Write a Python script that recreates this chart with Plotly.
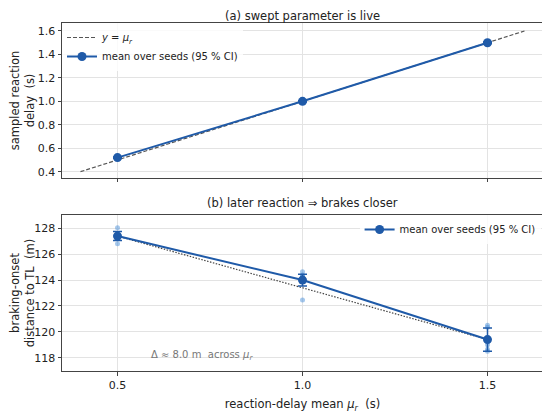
import plotly.graph_objects as go

# ---------- data ----------
mu_r = [0.5, 1.0, 1.5]

# (a) sampled reaction delay
ident_x = [0.4, 1.6]
ident_y = [0.4, 1.6]
delay_mean = [0.52, 1.0, 1.5]
delay_ci = [0.006, 0.005, 0.006]

# (b) braking-onset distance to traffic light
seed_x = [0.5] * 5 + [1.0] * 5 + [1.5] * 5
seed_dist = [128.05, 126.8, 127.4, 127.5, 127.25,
             124.65, 122.45, 124.3, 124.4, 124.2,
             120.5, 120.35, 119.0, 118.65, 118.5]
dist_mean = [127.4, 124.0, 119.4]
dist_ci = [0.35, 0.45, 0.9]
fit_x = [0.5, 1.5]
fit_y = [127.4, 119.4]

BLUE = "#1f5aa8"
FONT = "DejaVu Sans"
MU = "<i>μ</i><sub><i>r</i></sub>"

fig = go.Figure()

# ---------- panel (a) ----------
fig.add_trace(go.Scatter(
    x=ident_x, y=ident_y, mode="lines",
    line=dict(color="#555555", width=1.2, dash="4px,2px"),
    name="<i>y</i> = " + MU, xaxis="x", yaxis="y", legend="legend",
))
fig.add_trace(go.Scatter(
    x=mu_r, y=delay_mean, mode="lines+markers",
    line=dict(color=BLUE, width=2),
    marker=dict(color=BLUE, size=9),
    error_y=dict(type="data", array=delay_ci, color=BLUE, thickness=1.5, width=4.5),
    name="mean over seeds (95 % CI)", xaxis="x", yaxis="y", legend="legend",
))

# ---------- panel (b) ----------
fig.add_trace(go.Scatter(
    x=seed_x, y=seed_dist, mode="markers",
    marker=dict(color="rgba(74,144,217,0.5)", size=5),
    showlegend=False, xaxis="x2", yaxis="y2", hoverinfo="y",
))
fig.add_trace(go.Scatter(
    x=fit_x, y=fit_y, mode="lines",
    line=dict(color="#444444", width=1.2, dash="1.5px,1.5px"),
    showlegend=False, xaxis="x2", yaxis="y2",
))
fig.add_trace(go.Scatter(
    x=mu_r, y=dist_mean, mode="lines+markers",
    line=dict(color=BLUE, width=2),
    marker=dict(color=BLUE, size=9),
    error_y=dict(type="data", array=dist_ci, color=BLUE, thickness=1.5, width=4.5),
    name="mean over seeds (95 % CI)", xaxis="x2", yaxis="y2", legend="legend2",
))

axis_common = dict(
    showline=True, mirror=True, linecolor="#444444", linewidth=1,
    showgrid=True, gridcolor="#e3e3e3", gridwidth=1,
    ticks="outside", ticklen=3.5, tickcolor="#444444",
    zeroline=False, tickfont=dict(size=11, color="#222222"),
    automargin=False,
)
title_font = dict(size=11.5)

# page body keeps an 8px margin, so the figure is 8px smaller than the window
fig.update_layout(
    width=542, height=405,
    margin=dict(l=54, r=7, t=15, b=42),
    paper_bgcolor="white", plot_bgcolor="white",
    font=dict(family=FONT, color="#222222"),
    xaxis=dict(axis_common, domain=[0, 1], range=[0.35, 1.65],
               tickvals=mu_r, showticklabels=False, anchor="y"),
    yaxis=dict(axis_common, domain=[0.5546, 1], range=[0.346, 1.668],
               tickvals=[0.4, 0.6, 0.8, 1.0, 1.2, 1.4, 1.6], tickformat=".1f",
               title=dict(text="sampled reaction<br>delay  (s)", font=title_font,
                          standoff=7), anchor="x"),
    xaxis2=dict(axis_common, domain=[0, 1], range=[0.35, 1.65],
                tickvals=mu_r, tickformat=".1f", anchor="y2",
                title=dict(text="reaction-delay mean " + MU + "  (s)",
                           font=title_font, standoff=9)),
    yaxis2=dict(axis_common, domain=[0, 0.4483], range=[116.97, 129.03],
                tickvals=[118, 120, 122, 124, 126, 128], anchor="x2",
                title=dict(text="braking-onset<br>distance to TL  (m)",
                           font=title_font, standoff=7)),
    legend=dict(x=0.0, y=1.0, xanchor="left", yanchor="top",
                bgcolor="rgba(255,255,255,0.8)", font=dict(size=10),
                tracegroupgap=0, itemwidth=30),
    legend2=dict(x=0.995, y=0.4483, xanchor="right", yanchor="top",
                 bgcolor="rgba(255,255,255,0.8)", font=dict(size=10),
                 itemwidth=30),
    showlegend=True,
)

fig.add_annotation(text="(a) swept parameter is live", xref="paper", yref="paper",
                   x=0.5, y=1.0, yshift=0, yanchor="bottom", showarrow=False,
                   borderpad=0, borderwidth=0, font=dict(size=11.5))
fig.add_annotation(text="(b) later reaction ⇒ brakes closer", xref="paper", yref="paper",
                   x=0.5, y=0.4483, yshift=5, yanchor="bottom", showarrow=False,
                   borderpad=0, borderwidth=0, font=dict(size=11.5))
fig.add_annotation(text="Δ ≈ 8.0 m  across " + MU, xref="x2", yref="y2",
                   x=0.586, y=118.2, xanchor="left", yanchor="middle",
                   showarrow=False, font=dict(size=10, color="#777777"))

fig.write_html("out.html")
